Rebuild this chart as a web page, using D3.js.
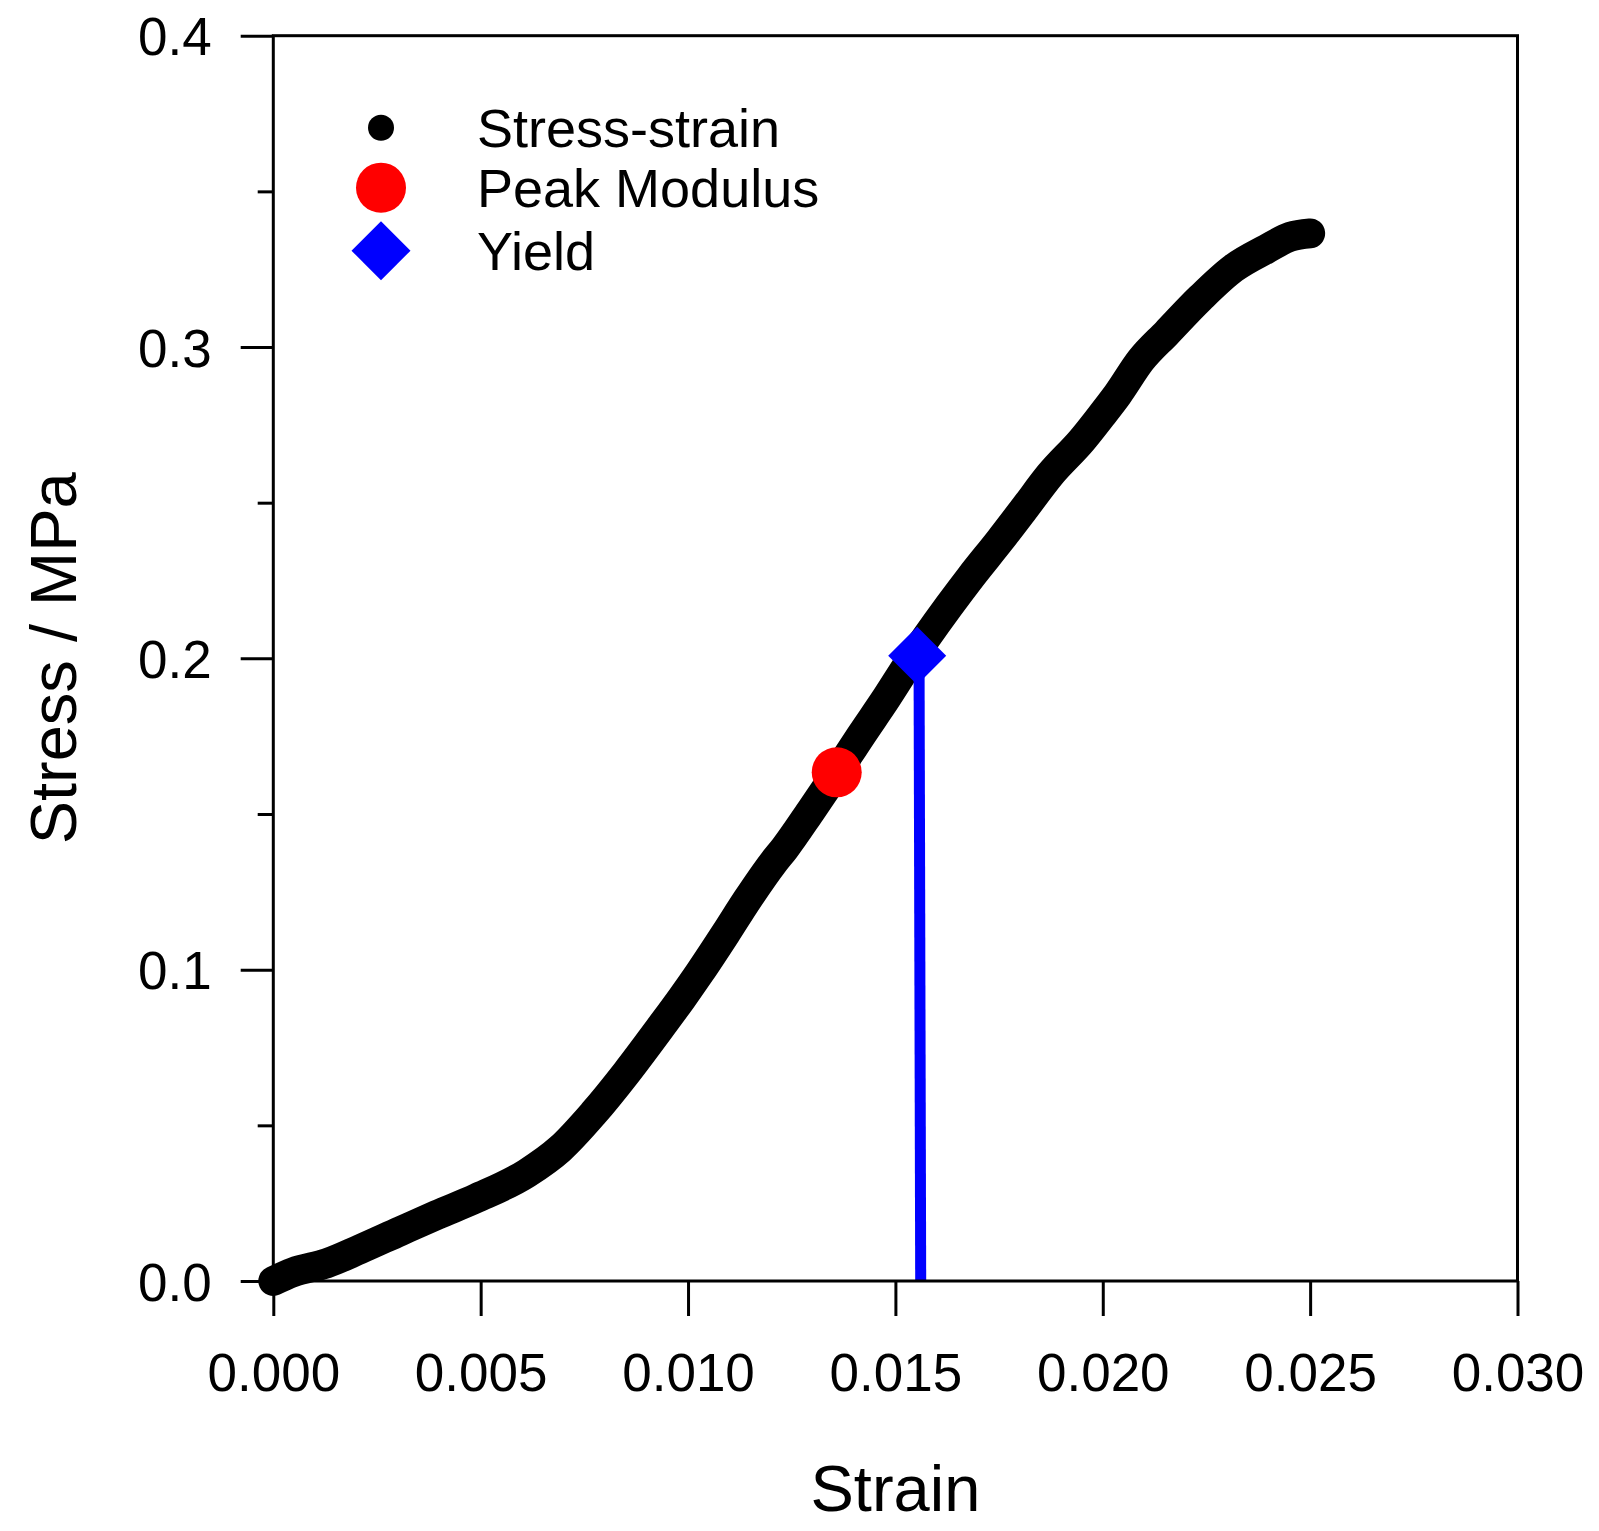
<!DOCTYPE html>
<html>
<head>
<meta charset="utf-8">
<script src="https://cdn.jsdelivr.net/npm/d3@7"></script>
<style>
  html, body { margin: 0; padding: 0; background: #fff; }
  svg { display: block; }
  text { font-family: "Liberation Sans", Arial, sans-serif; fill: #000; }
</style>
</head>
<body>
<svg id="chart" width="1599" height="1531"></svg>
<script>
// Measured stress-strain curve
const strain = [0.00000, 0.00048, 0.00129, 0.00209, 0.00306, 0.00394, 0.00490, 0.00611, 0.00691, 0.00772,
                0.00852, 0.00932, 0.00986, 0.01029, 0.01091, 0.01143, 0.01206, 0.01233, 0.01296, 0.01359,
                0.01419, 0.01475, 0.01529, 0.01628, 0.01682, 0.01752, 0.01813, 0.01873, 0.01950, 0.02000,
                0.02036, 0.02092, 0.02154, 0.02235, 0.02315, 0.02395, 0.02452, 0.02500];
const stress = [0.0000, 0.0028, 0.0057, 0.0102, 0.0160, 0.0212, 0.0266, 0.0346, 0.0424, 0.0539,
                0.0670, 0.0812, 0.0910, 0.0992, 0.1117, 0.1225, 0.1345, 0.1390, 0.1510, 0.1634,
                0.1756, 0.1866, 0.1978, 0.2166, 0.2262, 0.2379, 0.2485, 0.2590, 0.2701, 0.2785,
                0.2848, 0.2958, 0.3045, 0.3157, 0.3253, 0.3315, 0.3354, 0.3365];

// Characteristic points
const peakModulus = [0.013585, 0.1634];   // [strain, stress]
const yieldPoint  = [0.015526, 0.2008];
const yieldLineStrain = [0.01557, 0.01561];
const yieldLineStress = [0.2008, 0.0];

// Axes
const xTicks = [0.000, 0.005, 0.010, 0.015, 0.020, 0.025, 0.030];
const yTicks = [0.0, 0.1, 0.2, 0.3, 0.4];
const yMinorTicks = [0.05, 0.15, 0.25, 0.35];
const xDomain = [0, 0.030];
const yDomain = [0, 0.4];
const xTitle = "Strain";
const yTitle = "Stress / MPa";
const legendLabels = ["Stress-strain", "Peak Modulus", "Yield"];

const svg = d3.select("#chart");
const L = 273.3, R = 1517.5, T = 35.7, B = 1281;
const x = d3.scaleLinear().domain(xDomain).range([L, R]);
const y = d3.scaleLinear().domain(yDomain).range([B, T]);

const axisW = 3;

// Stress-strain curve: dense markers along the data
const pts = strain.map((s, i) => [s, stress[i]]);
const line = d3.line().x(d => x(d[0])).y(d => y(d[1])).curve(d3.curveMonotoneX);
svg.append("path")
  .attr("d", line(pts))
  .attr("fill", "none")
  .attr("stroke", "#000")
  .attr("stroke-width", 30)
  .attr("stroke-linecap", "round")
  .attr("stroke-linejoin", "round");
svg.append("g").selectAll("circle").data(pts).join("circle")
  .attr("cx", d => x(d[0])).attr("cy", d => y(d[1])).attr("r", 13).attr("fill", "#000");

// Yield drop line
svg.append("line")
  .attr("x1", x(yieldLineStrain[0])).attr("y1", y(yieldLineStress[0]))
  .attr("x2", x(yieldLineStrain[1])).attr("y2", y(yieldLineStress[1]))
  .attr("stroke", "#0000ff").attr("stroke-width", 11);

// Peak modulus marker
svg.append("circle")
  .attr("cx", x(peakModulus[0])).attr("cy", y(peakModulus[1])).attr("r", 25).attr("fill", "#ff0000");

// Yield marker
const diamond = (cx, cy, h) => `M${cx},${cy - h}L${cx + h},${cy}L${cx},${cy + h}L${cx - h},${cy}Z`;
svg.append("path")
  .attr("d", diamond(x(yieldPoint[0]), y(yieldPoint[1]), 29))
  .attr("fill", "#0000ff");

// Frame
svg.append("rect")
  .attr("x", L).attr("y", T).attr("width", R - L).attr("height", B - T)
  .attr("fill", "none").attr("stroke", "#000").attr("stroke-width", axisW);

// Y axis
const yAxis = svg.append("g").attr("transform", `translate(${L},0)`)
  .call(d3.axisLeft(y).tickValues(yTicks).tickSize(32.6).tickSizeOuter(0).tickFormat(d3.format(".1f")));
yAxis.select(".domain").remove();
yAxis.selectAll("line").attr("stroke-width", axisW);
yAxis.selectAll("text")
  .attr("x", -61.6).attr("dy", "0.36em")
  .style("font-size", "53px").style("font-family", "'Liberation Sans', Arial, sans-serif");

const yMinor = svg.append("g").attr("transform", `translate(${L},0)`)
  .call(d3.axisLeft(y).tickValues(yMinorTicks).tickSize(15.6).tickSizeOuter(0).tickFormat(""));
yMinor.select(".domain").remove();
yMinor.selectAll("line").attr("stroke-width", axisW);

// X axis
const xAxis = svg.append("g").attr("transform", `translate(0,${B})`)
  .call(d3.axisBottom(x).tickValues(xTicks).tickSize(35).tickSizeOuter(0).tickFormat(d3.format(".3f")));
xAxis.select(".domain").remove();
xAxis.selectAll("line").attr("stroke-width", axisW);
xAxis.selectAll("text")
  .attr("y", 110).attr("dy", 0)
  .style("font-size", "53px").style("font-family", "'Liberation Sans', Arial, sans-serif");

// Axis titles
svg.append("text")
  .attr("x", (L + R) / 2).attr("y", 1511)
  .attr("text-anchor", "middle")
  .style("font-size", "65px")
  .text(xTitle);
svg.append("text")
  .attr("transform", `translate(76,${(T + B) / 2}) rotate(-90)`)
  .attr("text-anchor", "middle")
  .style("font-size", "65px")
  .text(yTitle);

// Legend
const legX = 381, legTextX = 477;
const legY = [127.7, 187.7, 250.7];
const lg = svg.append("g");
lg.append("circle").attr("cx", legX).attr("cy", legY[0]).attr("r", 13).attr("fill", "#000");
lg.append("circle").attr("cx", legX).attr("cy", legY[1]).attr("r", 25).attr("fill", "#ff0000");
lg.append("path").attr("d", diamond(legX, legY[2], 29.5)).attr("fill", "#0000ff");
legendLabels.forEach((t, i) => {
  lg.append("text")
    .attr("x", legTextX).attr("y", legY[i] + 19.5)
    .style("font-size", "54px")
    .text(t);
});
</script>
</body>
</html>
